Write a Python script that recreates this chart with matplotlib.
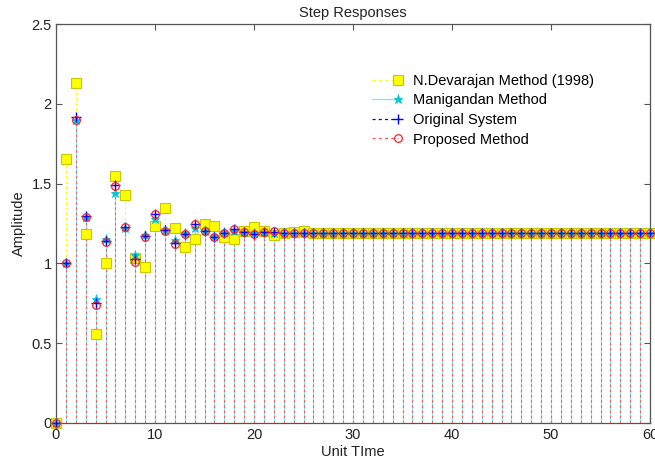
import matplotlib
matplotlib.use("Agg")
import matplotlib.pyplot as plt
from matplotlib.lines import Line2D
from matplotlib.legend_handler import HandlerLine2D
import numpy as np

plt.rcParams['font.family'] = ['Liberation Sans', 'DejaVu Sans']

k = list(range(61))

devarajan = [0.0, 1.655, 2.13, 1.185, 0.56, 1.00, 1.545, 1.43, 1.035, 0.98,
             1.235, 1.345, 1.22, 1.10, 1.15, 1.245, 1.235, 1.165, 1.15, 1.20,
             1.225, 1.20, 1.18, 1.19, 1.195, 1.20, 1.19, 1.19, 1.19, 1.19,
             1.19, 1.19, 1.19, 1.19, 1.19, 1.19, 1.19, 1.19, 1.19, 1.19,
             1.19, 1.19, 1.19, 1.19, 1.19, 1.19, 1.19, 1.19, 1.19, 1.19,
             1.19, 1.19, 1.19, 1.19, 1.19, 1.19, 1.19, 1.19, 1.19, 1.19, 1.19]

manigandan = [0.0, 1.0, 1.90, 1.29, 0.78, 1.15, 1.44, 1.22, 1.05, 1.18,
              1.28, 1.21, 1.145, 1.19, 1.22, 1.205, 1.17, 1.195, 1.205, 1.195,
              1.19, 1.195, 1.19, 1.19, 1.19, 1.19, 1.19, 1.19, 1.19, 1.19,
              1.19, 1.19, 1.19, 1.19, 1.19, 1.19, 1.19, 1.19, 1.19, 1.19,
              1.19, 1.19, 1.19, 1.19, 1.19, 1.19, 1.19, 1.19, 1.19, 1.19,
              1.19, 1.19, 1.19, 1.19, 1.19, 1.19, 1.19, 1.19, 1.19, 1.19, 1.19]

original = [0.0, 1.0, 1.92, 1.30, 0.75, 1.14, 1.49, 1.23, 1.03, 1.17,
            1.31, 1.21, 1.13, 1.185, 1.245, 1.20, 1.165, 1.19, 1.215, 1.195,
            1.185, 1.195, 1.195, 1.19, 1.19, 1.19, 1.19, 1.19, 1.19, 1.19,
            1.19, 1.19, 1.19, 1.19, 1.19, 1.19, 1.19, 1.19, 1.19, 1.19,
            1.19, 1.19, 1.19, 1.19, 1.19, 1.19, 1.19, 1.19, 1.19, 1.19,
            1.19, 1.19, 1.19, 1.19, 1.19, 1.19, 1.19, 1.19, 1.19, 1.19, 1.19]

proposed = [0.0, 1.0, 1.90, 1.29, 0.74, 1.135, 1.485, 1.23, 1.01, 1.165,
            1.31, 1.20, 1.12, 1.185, 1.245, 1.20, 1.165, 1.19, 1.215, 1.195,
            1.185, 1.195, 1.20, 1.19, 1.19, 1.19, 1.19, 1.19, 1.19, 1.19,
            1.19, 1.19, 1.19, 1.19, 1.19, 1.19, 1.19, 1.19, 1.19, 1.19,
            1.19, 1.19, 1.19, 1.19, 1.19, 1.19, 1.19, 1.19, 1.19, 1.19,
            1.19, 1.19, 1.19, 1.19, 1.19, 1.19, 1.19, 1.19, 1.19, 1.19, 1.19]

labels = ["N.Devarajan Method (1998)", "Manigandan Method",
          "Original System", "Proposed Method"]

fig = plt.figure(figsize=(6.55, 4.63), dpi=100)
ax = fig.add_axes([56/655, 40/463, 594/655, 399/463])

dotted = (0, (2.5, 2.5))
styles = [
    dict(color='#ffff00', ls=dotted, marker='s', ms=6.5, mfc='#ffff00', mec='#c8c800', mew=0.8, lz=0.6, mz=5),
    dict(color='#70f0f6', ls='-', marker='*', ms=6.5, mfc='#00c8d8', mec='#00c8d8', mew=0.6, lz=3, mz=6),
    dict(color='#0000ff', ls=dotted, marker='+', ms=7, mfc='none', mec='#0000ff', mew=1.0, lz=0.5, mz=7),
    dict(color='#ff5a5a', ls=dotted, marker='o', ms=5.5, mfc='none', mec='#ff2020', mew=0.9, lz=4, mz=8),
]
series = [devarajan, manigandan, original, proposed]

handles = []
for vals, st, lab in zip(series, styles, labels):
    ax.vlines(k, 0, vals, colors=st['color'], linestyles=[st['ls']],
              linewidth=0.75, zorder=st['lz'])
    ax.plot(k, vals, ls='none', marker=st['marker'], ms=st['ms'], mfc=st['mfc'],
            mec=st['mec'], mew=st['mew'], zorder=st['mz'], clip_on=False)
    handles.append(Line2D([], [], color=st['color'], ls=st['ls'], lw=0.9,
                          marker=st['marker'], ms=st['ms'], mfc=st['mfc'],
                          mec=st['mec'], mew=st['mew'], label=lab))


class StemHandler(HandlerLine2D):
    def create_artists(self, legend, orig_handle, xdescent, ydescent, width,
                       height, fontsize, trans):
        y = height / 2 - ydescent
        x0 = -xdescent
        x1 = width - xdescent
        line = Line2D([x0, x1], [y, y])
        self.update_prop(line, orig_handle, legend)
        line.set_marker('None')
        mk = Line2D([x1], [y])
        self.update_prop(mk, orig_handle, legend)
        mk.set_linestyle('None')
        line.set_transform(trans)
        mk.set_transform(trans)
        return [line, mk]


leg = ax.legend(handles=handles, loc='upper left', bbox_to_anchor=(0.532, 0.875),
                frameon=False, fontsize=10.5, handlelength=1.8, handletextpad=1.0,
                labelspacing=0.38, borderpad=0, borderaxespad=0,
                handler_map={Line2D: StemHandler()})

ax.set_xlim(0, 60)
ax.set_ylim(0, 2.5)
ax.set_xticks([0, 10, 20, 30, 40, 50, 60])
ax.set_yticks([0, 0.5, 1, 1.5, 2, 2.5])
ax.set_yticklabels(['0', '0.5', '1', '1.5', '2', '2.5'])
ax.tick_params(direction='in', top=True, right=True, length=4.5, width=0.8,
               colors='#555555', labelcolor='#222222', labelsize=10.5)
ax.tick_params(axis='x', pad=3.5)
ax.tick_params(axis='y', pad=3)
for sp in ax.spines.values():
    sp.set_color('#555555')
    sp.set_linewidth(0.9)

ax.set_title('Step Responses', fontsize=10.5, color='#222222', pad=5)
ax.set_xlabel('Unit TIme', fontsize=10.5, color='#222222', labelpad=2)
ax.set_ylabel('Amplitude', fontsize=10.5, color='#222222', labelpad=4)

fig.savefig('out.png', dpi=100, facecolor='white')
